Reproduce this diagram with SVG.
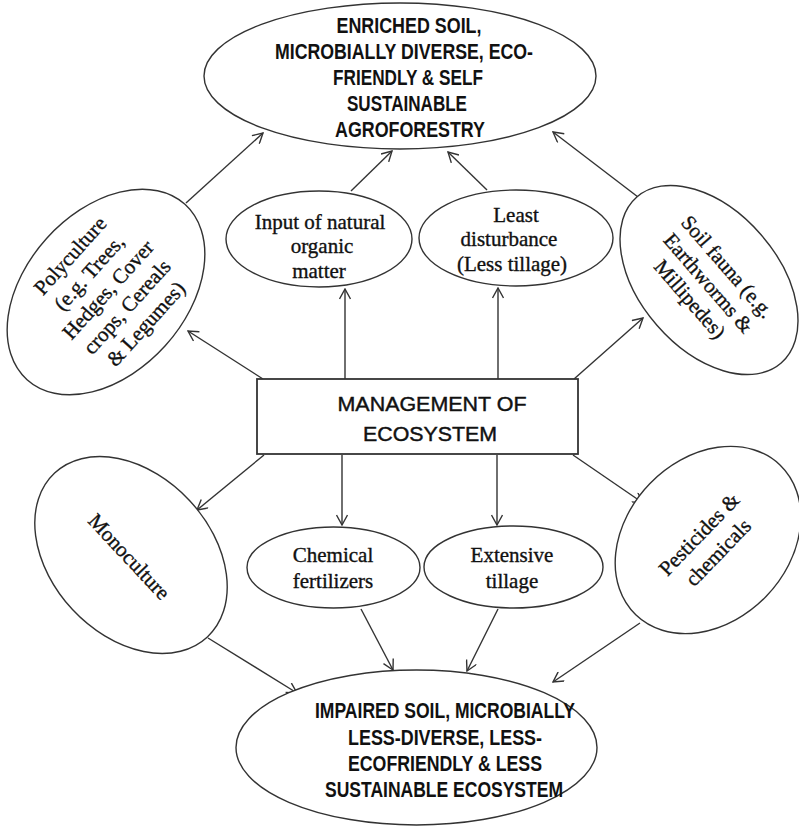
<svg xmlns="http://www.w3.org/2000/svg" width="799" height="827" viewBox="0 0 799 827">
  <defs>
    <style>
      .shape { fill: #ffffff; stroke: #333333; stroke-width: 1.4; }
      .box { fill: #ffffff; stroke: #333333; stroke-width: 1.8; }
      .sans { font-family: "Liberation Sans", Arial, sans-serif; font-size: 22.5px; font-weight: bold; fill: #111111; text-anchor: middle; }
      .label { font-family: "Liberation Sans", Arial, sans-serif; font-size: 21px; fill: #111111; stroke: #111111; stroke-width: 0.45; text-anchor: middle; }
      .serif { font-family: "Liberation Serif", "Times New Roman", serif; font-size: 21px; fill: #111111; stroke: #111111; stroke-width: 0.35; text-anchor: middle; }
      .link { stroke: #333333; stroke-width: 1.4; fill: none; marker-end: url(#arrow); }
    </style>
    <marker id="arrow" viewBox="0 0 12 12" markerWidth="12" markerHeight="12" refX="11" refY="6" orient="auto" markerUnits="userSpaceOnUse">
      <path d="M1,0.5 L11,6 L1,11.5" fill="none" stroke="#333333" stroke-width="1.4"/>
    </marker>
  </defs>

  <rect width="799" height="827" fill="#ffffff"/>

  <!-- connectors -->
  <g id="connectors">
    <line class="link" x1="186" y1="203" x2="263" y2="133"/>
    <line class="link" x1="351" y1="191" x2="392" y2="151"/>
    <line class="link" x1="487" y1="190" x2="448" y2="152"/>
    <line class="link" x1="638" y1="197" x2="553" y2="132"/>
    <line class="link" x1="345" y1="379" x2="345" y2="289"/>
    <line class="link" x1="498" y1="379" x2="498" y2="288"/>
    <line class="link" x1="263" y1="379" x2="188" y2="331"/>
    <line class="link" x1="574" y1="379" x2="643" y2="318"/>
    <line class="link" x1="264" y1="455" x2="197" y2="510"/>
    <line class="link" x1="342" y1="455" x2="342" y2="525"/>
    <line class="link" x1="497" y1="455" x2="497" y2="525"/>
    <line class="link" x1="573" y1="455" x2="643" y2="503"/>
    <line class="link" x1="208" y1="638" x2="297" y2="693"/>
    <line class="link" x1="361" y1="609" x2="393" y2="670"/>
    <line class="link" x1="498" y1="609" x2="467" y2="671"/>
    <line class="link" x1="640" y1="623" x2="553" y2="682"/>
  </g>

  <!-- outcome: healthy system -->
  <g id="enriched-soil">
    <ellipse class="shape" cx="400" cy="76" rx="196" ry="73"/>
    <text class="sans" x="409" y="33" textLength="145" lengthAdjust="spacingAndGlyphs">ENRICHED SOIL,</text>
    <text class="sans" x="404" y="59" textLength="258" lengthAdjust="spacingAndGlyphs">MICROBIALLY DIVERSE, ECO-</text>
    <text class="sans" x="408" y="85" textLength="150" lengthAdjust="spacingAndGlyphs">FRIENDLY &amp; SELF</text>
    <text class="sans" x="407" y="111" textLength="120" lengthAdjust="spacingAndGlyphs">SUSTAINABLE</text>
    <text class="sans" x="410" y="136.5" textLength="150" lengthAdjust="spacingAndGlyphs">AGROFORESTRY</text>
  </g>

  <g id="polyculture" transform="translate(106,292) rotate(-48)">
    <ellipse class="shape" cx="0" cy="0" rx="118" ry="80"/>
    <text class="serif" x="3" y="-44">Polyculture</text>
    <text class="serif" x="3" y="-18.5">(e.g. Trees,</text>
    <text class="serif" x="3" y="7">Hedges, Cover</text>
    <text class="serif" x="3" y="32.5">crops, Cereals</text>
    <text class="serif" x="3" y="58">&amp; Legumes)</text>
  </g>

  <g id="organic-input">
    <ellipse class="shape" cx="319" cy="239" rx="93" ry="48"/>
    <text class="serif" x="320" y="228.5">Input of natural</text>
    <text class="serif" x="322" y="253">organic</text>
    <text class="serif" x="319" y="277.5">matter</text>
  </g>

  <g id="least-disturbance">
    <ellipse class="shape" cx="516" cy="238" rx="97" ry="48"/>
    <text class="serif" x="516" y="221.5">Least</text>
    <text class="serif" x="509" y="246">disturbance</text>
    <text class="serif" x="512" y="270.5">(Less tillage)</text>
  </g>

  <g id="soil-fauna" transform="translate(709,280) rotate(49)">
    <ellipse class="shape" cx="0" cy="0" rx="110" ry="69"/>
    <text class="serif" x="2" y="-15.5">Soil fauna (e.g.</text>
    <text class="serif" x="2" y="9.5">Earthworms &amp;</text>
    <text class="serif" x="2" y="34">Millipedes)</text>
  </g>

  <!-- central management node -->
  <g id="management">
    <rect class="box" x="257" y="379" width="321" height="75"/>
    <text class="label" x="432" y="411" textLength="189" lengthAdjust="spacingAndGlyphs">MANAGEMENT OF</text>
    <text class="label" x="430" y="441" textLength="134" lengthAdjust="spacingAndGlyphs">ECOSYSTEM</text>
  </g>

  <g id="monoculture" transform="translate(131,555) rotate(47)">
    <ellipse class="shape" cx="0" cy="0" rx="112" ry="80"/>
    <text class="serif" x="0" y="9.5">Monoculture</text>
  </g>

  <g id="chemical-fertilizers">
    <ellipse class="shape" cx="333.5" cy="567.5" rx="86.5" ry="40.5"/>
    <text class="serif" x="333" y="562">Chemical</text>
    <text class="serif" x="333" y="588">fertilizers</text>
  </g>

  <g id="extensive-tillage">
    <ellipse class="shape" cx="513.5" cy="567" rx="89.5" ry="41"/>
    <text class="serif" x="512" y="562">Extensive</text>
    <text class="serif" x="512" y="588">tillage</text>
  </g>

  <g id="pesticides" transform="translate(708,540) rotate(-46)">
    <ellipse class="shape" cx="0" cy="0" rx="104" ry="81"/>
    <text class="serif" x="-2" y="-3.5">Pesticides &amp;</text>
    <text class="serif" x="-2" y="23">chemicals</text>
  </g>

  <!-- outcome: degraded system -->
  <g id="impaired-soil">
    <ellipse class="shape" cx="416.5" cy="747.5" rx="180.5" ry="77.5"/>
    <text class="sans" x="445" y="718" textLength="260" lengthAdjust="spacingAndGlyphs">IMPAIRED SOIL, MICROBIALLY</text>
    <text class="sans" x="445" y="745" textLength="194" lengthAdjust="spacingAndGlyphs">LESS-DIVERSE, LESS-</text>
    <text class="sans" x="445" y="771" textLength="194" lengthAdjust="spacingAndGlyphs">ECOFRIENDLY &amp; LESS</text>
    <text class="sans" x="444" y="796.5" textLength="238" lengthAdjust="spacingAndGlyphs">SUSTAINABLE ECOSYSTEM</text>
  </g>
</svg>
